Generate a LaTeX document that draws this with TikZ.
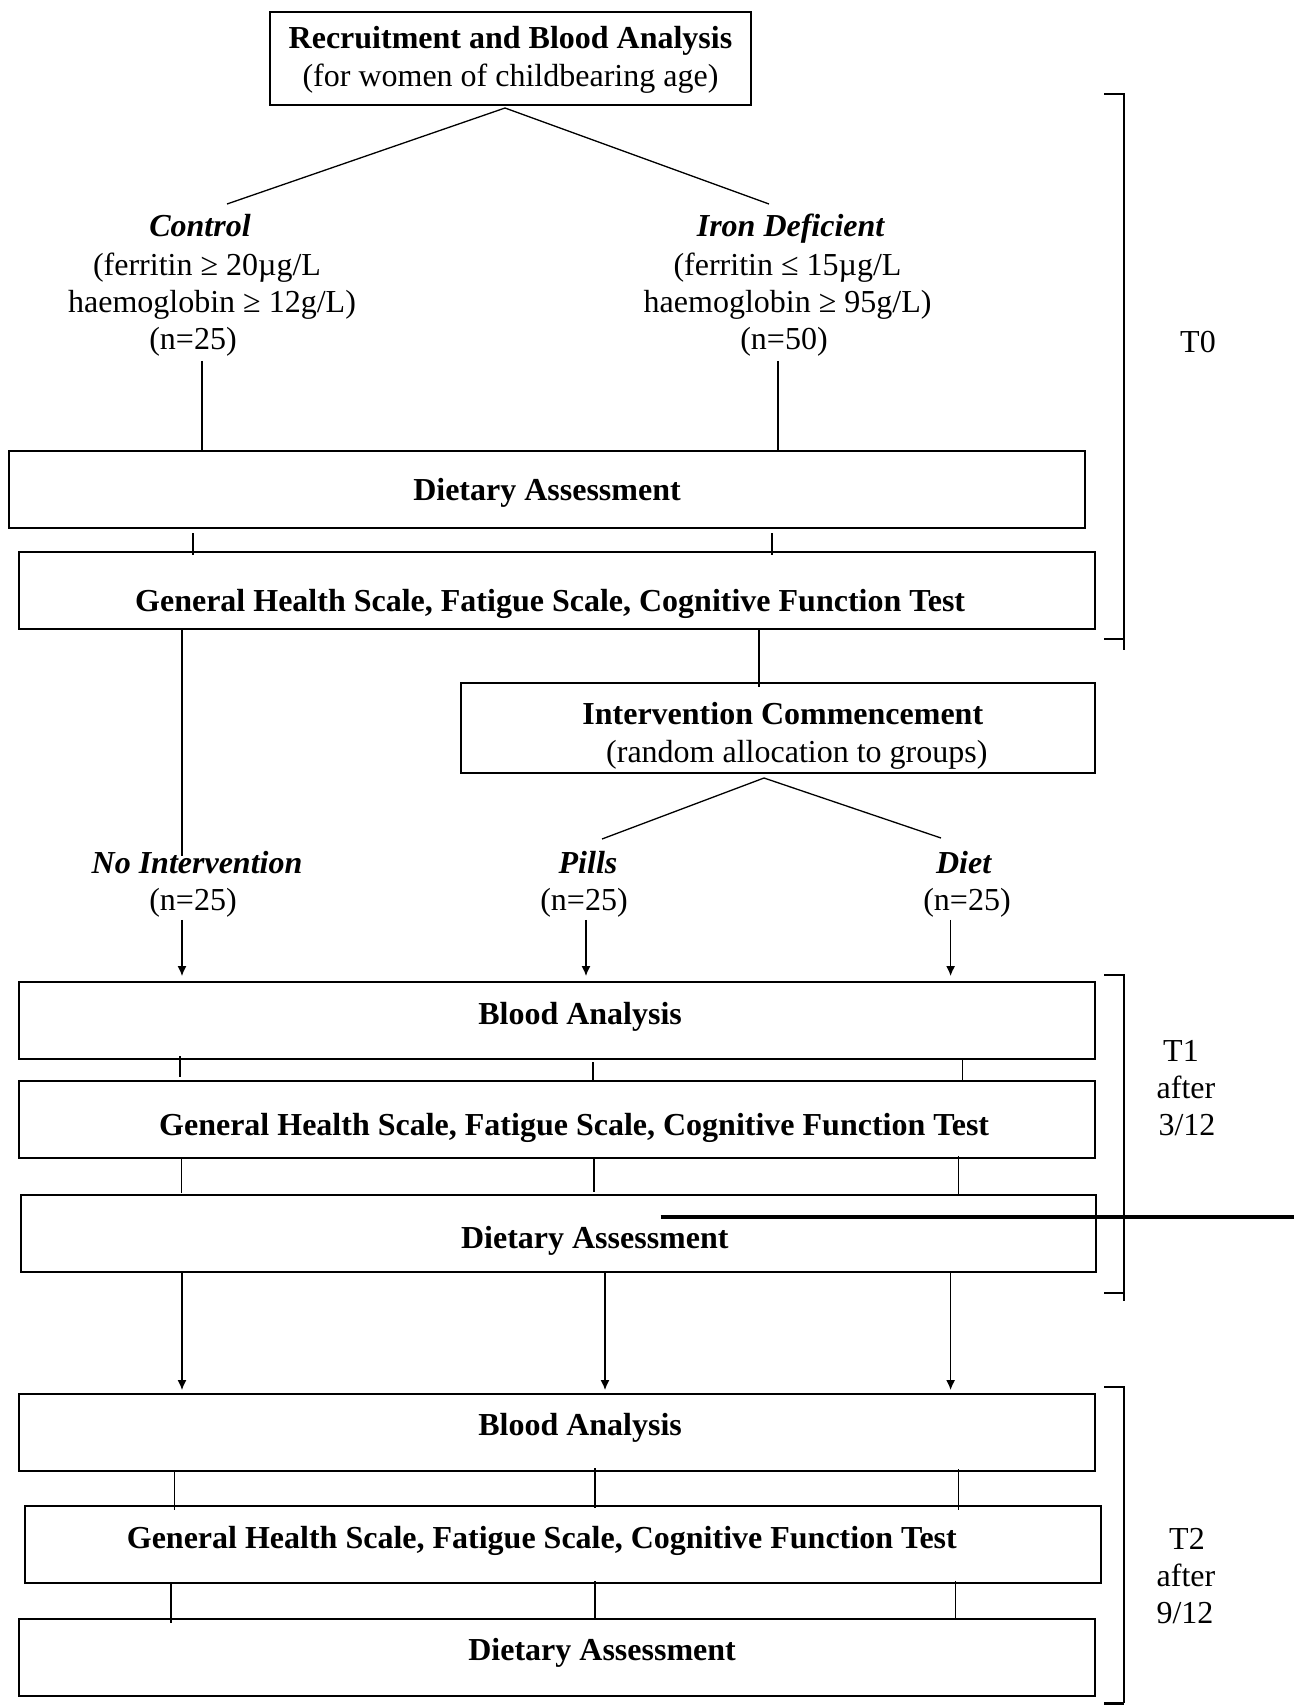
\documentclass[tikz,border=0pt]{standalone}
\usepackage{fontspec}
\setmainfont{Liberation Serif}
\usetikzlibrary{arrows.meta,calc}
\begin{document}
\begin{tikzpicture}[x=1pt,y=-1pt,
  every node/.style={font=\fontsize{32}{38}\selectfont, inner sep=0pt, outer sep=0pt},
  wbox/.style={draw, line width=2pt, minimum width=1076pt, minimum height=77pt,
               font=\fontsize{32}{38}\selectfont\bfseries, text depth=0pt},
  tbox/.style={draw, line width=2pt, align=center},
  lbl/.style={anchor=base},
  ln/.style={line width=1.3pt},
  arr/.style={line width=1.3pt, -{Latex[length=10pt,width=9pt]}},
  brk/.style={line width=2pt},
]
\useasboundingbox (0,0) rectangle (1294,1706);

% ---------- T0 ----------
\node[tbox, minimum width=481pt, minimum height=93pt] (top) at (510.5,58.5)
  {\textbf{\rule{0pt}{24pt}Recruitment and Blood Analysis}\\(for women of childbearing age)\rule[-7pt]{0pt}{7pt}};

\node[lbl] (ctrl1) at (200,236) {\textbf{\textit{Control}}};
\node[lbl] (ctrl2) at (207,275) {(ferritin ≥ 20µg/L};
\node[lbl] (ctrl3) at (212,312) {haemoglobin ≥ 12g/L)};
\node[lbl] (ctrl4) at (193,349) {(n=25)};

\node[lbl] (iron1) at (791,236) {\textbf{\textit{Iron Deficient}}};
\node[lbl] (iron2) at (787.5,275) {(ferritin ≤ 15µg/L};
\node[lbl] (iron3) at (787.6,312) {haemoglobin ≥ 95g/L)};
\node[lbl] (iron4) at (784,349) {(n=50)};

\node[wbox, text height=21pt] (daT0) at (547,489.5) {Dietary Assessment};
\node[wbox, text height=42pt] (ghsT0) at (556.6,590.5)
  {General Health Scale, Fatigue Scale, Cognitive Function Test\hspace*{13pt}};

\node[tbox, minimum width=633.6pt, minimum height=90pt] (inter) at (777.8,728)
  {\textbf{\rule{0pt}{38pt}\hspace*{10pt}Intervention Commencement}\\\hspace*{38pt}(random allocation to groups)\rule[-7pt]{0pt}{7pt}};

\node[lbl] (ni1) at (197,873) {\textbf{\textit{No Intervention}}};
\node[lbl] (ni2) at (193,910) {(n=25)};
\node[lbl] (pi1) at (588,873) {\textbf{\textit{Pills}}};
\node[lbl] (pi2) at (584,910) {(n=25)};
\node[lbl] (di1) at (964,873) {\textbf{\textit{Diet}}};
\node[lbl] (di2) at (967,910) {(n=25)};

% ---------- T1 ----------
\node[wbox, text height=7pt] (baT1) at (556.6,1020.5) {\hspace*{47pt}Blood Analysis};
\node[wbox, text height=31pt] (ghsT1) at (556.6,1119.5)
  {\hspace*{35pt}General Health Scale, Fatigue Scale, Cognitive Function Test};
\node[wbox, minimum width=1075.4pt, text height=29pt] (daT1) at (558.3,1233.5)
  {\hspace*{73pt}Dietary Assessment};

% ---------- T2 ----------
\node[wbox, text height=5pt] (baT2) at (556.6,1432.5) {\hspace*{47pt}Blood Analysis};
\node[wbox, text height=7pt] (ghsT2) at (562.8,1544.5)
  {General Health Scale, Fatigue Scale, Cognitive Function Test\hspace*{42pt}};
\node[wbox, text height=5pt] (daT2) at (556.6,1657.5) {\hspace*{91pt}Dietary Assessment};

% ---------- period labels ----------
\node[lbl] (t0) at (1198,352) {T0};
\node[lbl] (t1a) at (1181,1061) {T1};
\node[lbl] (t1b) at (1186,1098) {after};
\node[lbl] (t1c) at (1187,1135) {3/12};
\node[lbl] (t2a) at (1187,1549) {T2};
\node[lbl] (t2b) at (1186,1586) {after};
\node[lbl] (t2c) at (1185,1623) {9/12};

% ---------- free ends ----------
\coordinate (e1) at (227,204);
\coordinate (e2) at (769,204);
\coordinate (e3) at (182,856);
\coordinate (e4) at (602,839);
\coordinate (e5) at (941,838);

% ---------- connectors T0 ----------
\draw[ln] ($(top.south)+(-5.5,3)$) -- (e1);
\draw[ln] ($(top.south)+(-5.5,3)$) -- (e2);
\draw[ln] ($(ctrl4.south -| 202,0)+(0,5)$) -- (202,0 |- daT0.north);
\draw[ln] ($(iron4.south -| 778,0)+(0,5)$) -- (778,0 |- daT0.north);
\draw[ln] ($(daT0.south -| 193,0)+(0,5)$) -- ($(ghsT0.north -| 193,0)+(0,3)$);
\draw[ln] ($(daT0.south -| 772,0)+(0,5)$) -- ($(ghsT0.north -| 772,0)+(0,3)$);
\draw[line width=2pt] (182,0 |- ghsT0.south) -- (e3);
\draw[ln] (759,0 |- ghsT0.south) -- ($(inter.north -| 759,0)+(0,4)$);
\draw[ln] ($(inter.south -| 764,0)+(0,5)$) -- (e4);
\draw[ln] ($(inter.south -| 764,0)+(0,5)$) -- (e5);

\draw[arr] ($(ni2.south -| 182,0)+(0,3)$) -- ($(baT1.north -| 182,0)+(0,-6)$);
\draw[arr] ($(pi2.south -| 586,0)+(0,3)$) -- ($(baT1.north -| 586,0)+(0,-6)$);
\draw[arr] ($(di2.south -| 950.6,0)+(0,3)$) -- ($(baT1.north -| 950.6,0)+(0,-6)$);

% ---------- connectors T1 ----------
\draw[ln] ($(baT1.south -| 180,0)+(0,-3)$) -- ($(ghsT1.north -| 180,0)+(0,-4)$);
\draw[ln] ($(baT1.south -| 593,0)+(0,3)$) -- ($(ghsT1.north -| 593,0)+(0,1)$);
\draw[ln] (962.6,0 |- baT1.south) -- ($(ghsT1.north -| 962.6,0)+(0,-1)$);
\draw[ln] (181.5,0 |- ghsT1.south) -- ($(daT1.north -| 181.5,0)+(0,-2)$);
\draw[ln] (594,0 |- ghsT1.south) -- ($(daT1.north -| 594,0)+(0,-3)$);
\draw[ln] ($(ghsT1.south -| 958.5,0)+(0,-2)$) -- (958.5,0 |- daT1.north);

\draw[arr] (182,0 |- daT1.south) -- ($(baT2.north -| 182,0)+(0,-4)$);
\draw[arr] (605,0 |- daT1.south) -- ($(baT2.north -| 605,0)+(0,-4)$);
\draw[arr] (950.6,0 |- daT1.south) -- ($(baT2.north -| 950.6,0)+(0,-4)$);

% ---------- connectors T2 ----------
\draw[ln] (174.5,0 |- baT2.south) -- ($(ghsT2.north -| 174.5,0)+(0,4)$);
\draw[ln] ($(baT2.south -| 595,0)+(0,-3)$) -- ($(ghsT2.north -| 595,0)+(0,2)$);
\draw[ln] ($(baT2.south -| 958.5,0)+(0,-2)$) -- ($(ghsT2.north -| 958.5,0)+(0,4)$);
\draw[ln] (171,0 |- ghsT2.south) -- ($(daT2.north -| 171,0)+(0,4)$);
\draw[ln] ($(ghsT2.south -| 595,0)+(0,-2)$) -- ($(daT2.north -| 595,0)+(0,1)$);
\draw[ln] ($(ghsT2.south -| 955.6,0)+(0,-2)$) -- ($(daT2.north -| 955.6,0)+(0,1)$);

% ---------- stray thick rule ----------
\draw[line width=4pt] (660.6,1216.7) -- (1294,1216.7);

% ---------- brackets ----------
\draw[brk] (1104,94) -- (1123.5,94) -- (1123.5,650);
\draw[brk] (1104,639) -- (1123.5,639);
\draw[brk] (1104,975) -- (1123.5,975) -- (1123.5,1301);
\draw[brk] (1104,1293) -- (1123.5,1293);
\draw[brk] (1104,1387) -- (1123.5,1387) -- (1123.5,1703);
\draw[line width=3pt] (1104,1703.5) -- (1123.5,1703.5);
\end{tikzpicture}
\end{document}
